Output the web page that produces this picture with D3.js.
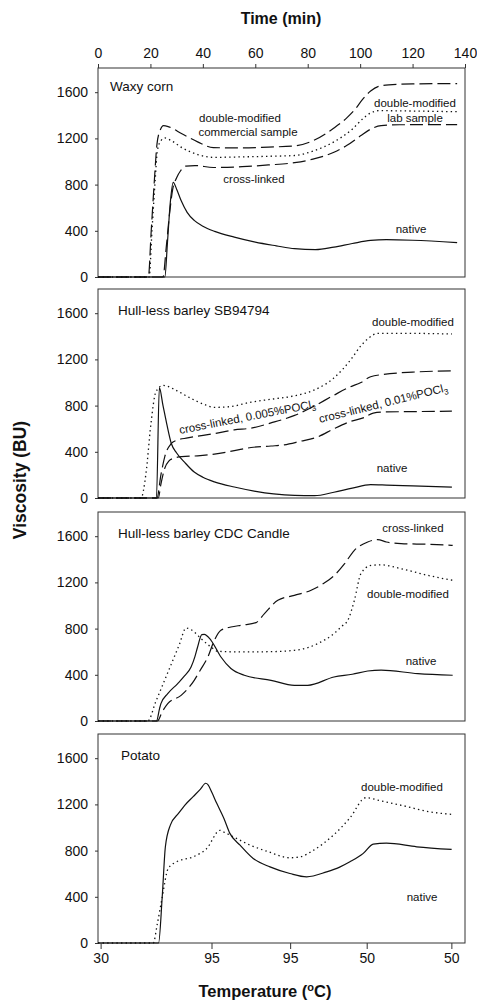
<!DOCTYPE html>
<html>
<head>
<meta charset="utf-8">
<script src="https://cdn.jsdelivr.net/npm/d3@7"></script>
<style>
  body { margin: 0; background: #fff; }
  svg { display: block; }
  text { font-family: "Liberation Sans", Arial, sans-serif; fill: #111; }
</style>
</head>
<body>
<svg width="477" height="1000"></svg>
<script>
// time axis (top) and temperature axis (bottom)
var timeTicks = [0, 20, 40, 60, 80, 100, 120, 140];
var tempTickTimes = [1, 43.3, 73.3, 102.5, 134.8];
var tempTickLabels = ["30", "95", "95", "50", "50"];
var viscTicks = [0, 400, 800, 1200, 1600];

// [time (min), viscosity (BU)]
// Waxy corn
var waxyDoubleComm = [[0,0],[19.2,0],[20.3,400],[21.4,800],[22.5,1150],[23.7,1270],[25,1310],[27,1300],[32,1240],[38,1170],[44,1120],[55,1118],[65,1125],[75,1135],[82,1180],[90,1290],[95,1380],[98,1450],[101,1540],[104,1610],[107,1650],[111,1664],[120,1672],[137,1675]];
var waxyDoubleLab = [[0,0],[19.5,0],[20.6,400],[21.7,800],[22.7,1100],[24,1180],[25.5,1204],[28,1180],[32,1120],[38,1060],[44,1036],[55,1040],[65,1045],[75,1052],[82,1090],[90,1170],[97,1280],[101,1370],[104,1420],[107,1440],[120,1437],[137,1431]];
var waxyCross = [[0,0],[24.8,0],[26,250],[27.3,550],[28.5,760],[30,860],[31.5,920],[33.5,960],[37,965],[44,948],[55,955],[65,970],[75,990],[82,1020],[90,1080],[95,1140],[100,1220],[104,1280],[108,1310],[115,1318],[137,1320]];
var waxyNative = [[0,0],[25.5,0],[26.5,300],[27.6,650],[28.7,820],[30,760],[31.7,662],[34,560],[36.7,490],[40,440],[44.5,395],[52,345],[60,302],[68,270],[75,245],[83,237],[90,259],[97,290],[104,317],[110,323],[120,318],[137,297]];

// Hull-less barley SB94794
var sbDouble = [[0,0],[16.4,0],[18.3,212],[20.2,645],[22.1,920],[24.8,975],[30,930],[34,880],[40,815],[44.4,785],[50,790],[58.4,830],[66,855],[75,885],[82,930],[90,1040],[96.5,1200],[100,1310],[103,1380],[106.7,1425],[120,1425],[135,1420]];
var sbCross005 = [[0,0],[22.5,0],[24,200],[25.5,360],[27.9,470],[30,500],[34.2,520],[44.4,558],[52,590],[58.4,605],[66,650],[75,715],[82,790],[90,890],[96,960],[100.3,1000],[104,1050],[109,1070],[120,1090],[135,1101]];
var sbCross01 = [[0,0],[23,0],[24,120],[25.5,260],[27,320],[29,345],[32,358],[38,365],[44.4,380],[52,410],[58.4,437],[66,450],[71,460],[77,490],[83.8,529],[90,600],[96,660],[101.6,697],[105,735],[110,745],[120,748],[135,752]];
var sbNative = [[0,0],[22.3,0],[23.4,955],[24.8,800],[26.2,645],[28,470],[30,390],[33,310],[36.7,225],[40,180],[44.4,140],[52,95],[59.6,60],[67,35],[75,22],[82.6,20],[90,50],[97,85],[104,115],[110,112],[120,105],[135,95]];

// Hull-less barley CDC Candle
var cdcCross = [[0,0],[22.7,0],[24.5,80],[26.6,150],[31.7,222],[36.7,352],[39,440],[41.9,554],[44.4,699],[46.9,785],[50.7,814],[55,830],[60.3,852],[63.5,930],[68.6,1045],[74.9,1088],[81.3,1132],[86,1190],[90.2,1262],[94,1360],[97.8,1478],[102.9,1550],[106.7,1570],[110,1550],[115.6,1536],[125.8,1530],[135.3,1521]];
var cdcDouble = [[0,0],[19,0],[22,165],[25,330],[28,495],[31,660],[33.6,805],[36.7,771],[39.3,713],[43.1,641],[45.7,603],[55,598],[65,600],[74.9,612],[80,635],[83.8,670],[90,757],[93,820],[95.3,872],[97.8,1045],[100.3,1276],[104.2,1348],[108,1352],[115.6,1319],[125.8,1261],[135.3,1218]];
var cdcNative = [[0,0],[22.3,0],[23.5,110],[24,150],[26.6,237],[30.4,324],[33,390],[35.5,467],[37,560],[38,641],[39.6,748],[40.5,750],[43.1,699],[46.9,554],[50.7,454],[55.8,396],[66,352],[74.9,309],[80,309],[90,381],[97,405],[102.9,433],[108,441],[122,410],[135.3,396]];

// Potato
var potDouble = [[0,0],[21.1,0],[22.5,150],[24.3,371],[26.8,646],[30,703],[36.3,746],[41.5,819],[46.5,975],[48,960],[52,915],[58,848],[65,790],[73.2,738],[77,745],[82,800],[89.8,934],[96,1080],[102.2,1258],[108,1230],[115.2,1195],[127.9,1131],[134.9,1114]];
var potNative = [[0,0],[23.1,0],[24.5,400],[25.7,833],[27.6,1021],[30.7,1122],[33,1190],[36.3,1267],[39,1330],[41.1,1383],[42,1370],[43.5,1300],[45.3,1209],[48,1080],[50.3,949],[54.2,847],[59.2,732],[65.6,659],[73.2,602],[79.6,573],[87.2,616],[92,655],[96.1,703],[101.2,776],[105,856],[110,864],[121.6,833],[134.9,810]];

var panelTitles = ["Waxy corn", "Hull-less barley SB94794", "Hull-less barley CDC Candle", "Potato"];

var svg = d3.select("svg");
var left = 98, right = 465;
var x = d3.scaleLinear().domain([0, 140]).range([left, right]);

var DASH = "13,5", DOT = "1.4,3.2";

var panels = [
  { top: 68, bottom: 277,
    series: [
      { d: waxyDoubleComm, dash: DASH },
      { d: waxyDoubleLab, dash: DOT },
      { d: waxyCross, dash: DASH },
      { d: waxyNative, dash: null }
    ],
    labels: [
      { t: "double-modified", x: 240, y: 121.5 },
      { t: "commercial sample", x: 248, y: 136 },
      { t: "cross-linked", x: 254, y: 182.5 },
      { t: "native", x: 411, y: 232.5 },
      { t: "double-modified", x: 415, y: 106.5 },
      { t: "lab sample", x: 415, y: 121.5 }
    ] },
  { top: 289, bottom: 498,
    series: [
      { d: sbDouble, dash: DOT },
      { d: sbCross005, dash: DASH },
      { d: sbCross01, dash: DASH },
      { d: sbNative, dash: null }
    ],
    labels: [
      { t: "double-modified", x: 413, y: 326 },
      { t: "native", x: 392, y: 472 },
      { t: "cross-linked, 0.005%POCl", sub: "3", x: 180, y: 434, rot: -11, anchor: "start" },
      { t: "cross-linked, 0.01%POCl", sub: "3", x: 320, y: 423, rot: -14, anchor: "start" }
    ] },
  { top: 512, bottom: 721,
    series: [
      { d: cdcCross, dash: DASH },
      { d: cdcDouble, dash: DOT },
      { d: cdcNative, dash: null }
    ],
    labels: [
      { t: "cross-linked", x: 413, y: 532 },
      { t: "double-modified", x: 408, y: 598 },
      { t: "native", x: 421, y: 665 }
    ] },
  { top: 734, bottom: 943,
    series: [
      { d: potDouble, dash: DOT },
      { d: potNative, dash: null }
    ],
    labels: [
      { t: "double-modified", x: 402, y: 791 },
      { t: "native", x: 422, y: 901 }
    ] }
];

panels.forEach(function(p, i) {
  var g = svg.append("g");
  // 400 BU = 46.2 px in every panel
  var y = d3.scaleLinear().domain([0, 1600]).range([p.bottom, p.bottom - 184.8]);

  g.append("rect")
    .attr("x", left).attr("y", p.top)
    .attr("width", right - left).attr("height", p.bottom - p.top)
    .attr("fill", "none").attr("stroke", "#333").attr("stroke-width", 1);

  var ya = g.append("g")
    .attr("transform", "translate(" + left + ",0)")
    .call(d3.axisLeft(y).tickValues(viscTicks).tickSize(3).tickPadding(7).tickFormat(d3.format("d")));
  ya.select(".domain").remove();
  ya.selectAll("text").style("font-size", "14px").attr("fill", "#111");
  ya.selectAll("line").attr("stroke", "#333");

  var line = d3.line()
    .x(function(d) { return x(d[0]); })
    .y(function(d) { return y(d[1]); })
    .curve(d3.curveMonotoneX);

  p.series.forEach(function(s) {
    g.append("path")
      .datum(s.d)
      .attr("d", line)
      .attr("fill", "none")
      .attr("stroke", "#111")
      .attr("stroke-width", s.dash === DOT ? 1.3 : 1.2)
      .attr("stroke-dasharray", s.dash);
  });

  g.append("text")
    .attr("x", i == 3 ? 121 : (i == 0 ? 110 : 118))
    .attr("y", p.top + (i == 0 ? 23 : 25.5))
    .style("font-size", "13.5px")
    .text(panelTitles[i]);

  p.labels.forEach(function(l) {
    var t = g.append("text")
      .attr("x", l.x).attr("y", l.y)
      .attr("text-anchor", l.anchor || "middle")
      .style("font-size", "11.5px")
      .text(l.t);
    if (l.rot) t.attr("transform", "rotate(" + l.rot + "," + l.x + "," + l.y + ")");
    if (l.sub) t.append("tspan").attr("dy", 3).style("font-size", "8px").text(l.sub);
  });

  if (i == 0) {
    var xa = g.append("g")
      .attr("transform", "translate(0," + p.top + ")")
      .call(d3.axisTop(x).tickValues(timeTicks).tickSize(4).tickPadding(6));
    xa.select(".domain").remove();
    xa.selectAll("text").style("font-size", "14px").attr("fill", "#111");
    xa.selectAll("line").attr("stroke", "#333");
  }
  if (i == 3) {
    var xb = g.append("g")
      .attr("transform", "translate(0," + p.bottom + ")")
      .call(d3.axisBottom(x).tickValues(tempTickTimes).tickSize(6).tickPadding(4)
        .tickFormat(function(d, k) { return tempTickLabels[k]; }));
    xb.select(".domain").remove();
    xb.selectAll("text").style("font-size", "14px").attr("fill", "#111");
    xb.selectAll("line").attr("stroke", "#333");
  }
});

svg.append("text")
  .attr("x", 281).attr("y", 24)
  .attr("text-anchor", "middle")
  .style("font-size", "16px").style("font-weight", "bold")
  .text("Time (min)");

var tt = svg.append("text")
  .attr("x", 265).attr("y", 997)
  .attr("text-anchor", "middle")
  .style("font-size", "16.5px").style("font-weight", "bold")
  .text("Temperature (");
tt.append("tspan").attr("dy", -6).style("font-size", "11px").text("o");
tt.append("tspan").attr("dy", 6).text("C)");

svg.append("text")
  .attr("transform", "translate(26,480) rotate(-90)")
  .attr("text-anchor", "middle")
  .style("font-size", "17.5px").style("font-weight", "bold")
  .text("Viscosity (BU)");
</script>
</body>
</html>
